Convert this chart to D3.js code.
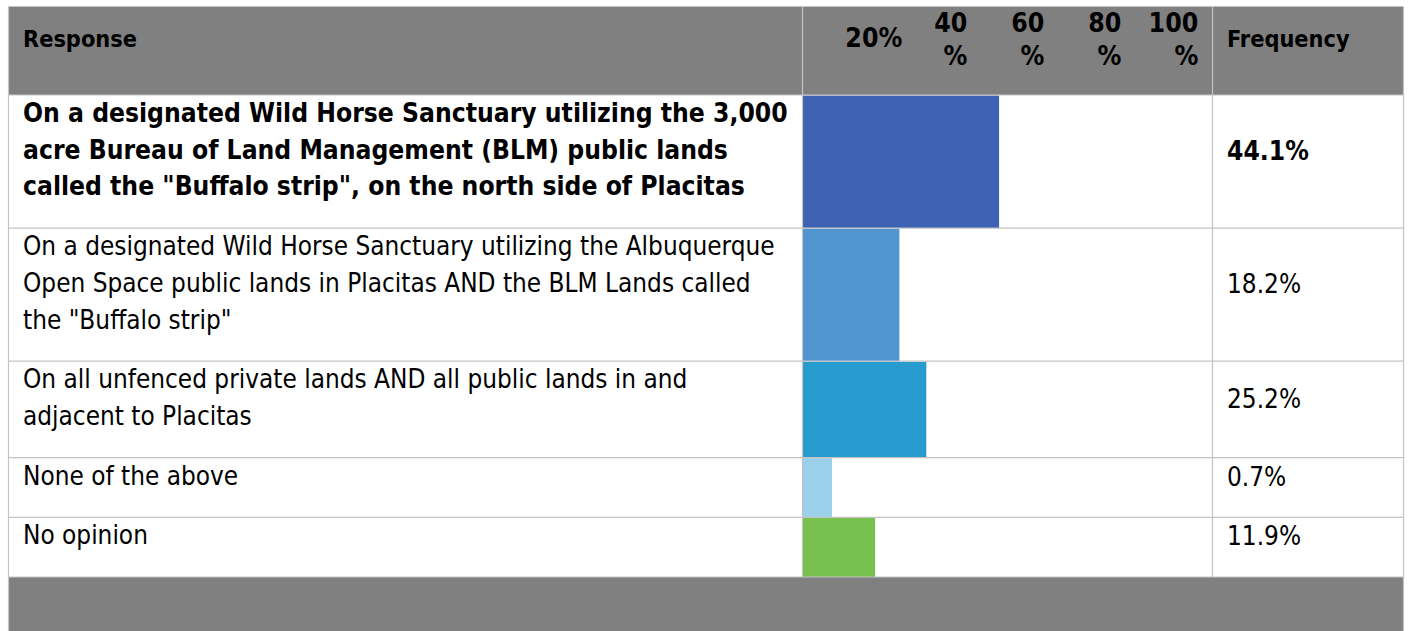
<!DOCTYPE html>
<html>
<head>
<meta charset="utf-8">
<script src="https://cdn.jsdelivr.net/npm/d3@7/dist/d3.min.js"></script>
<style>
  html, body { margin: 0; padding: 0; background: #ffffff; }
  svg { display: block; }
</style>
</head>
<body>
<svg id="chart" width="1408" height="631"></svg>
<script>
// ---------------- data ----------------
const responseLines = [
  ["On a designated Wild Horse Sanctuary utilizing the 3,000",
   "acre Bureau of Land Management (BLM) public lands",
   "called the \"Buffalo strip\", on the north side of Placitas"],
  ["On a designated Wild Horse Sanctuary utilizing the Albuquerque",
   "Open Space public lands in Placitas AND the BLM Lands called",
   "the \"Buffalo strip\""],
  ["On all unfenced private lands AND all public lands in and",
   "adjacent to Placitas"],
  ["None of the above"],
  ["No opinion"]
];
const frequencies = [44.1, 18.2, 25.2, 0.7, 11.9];
const highlighted = [true, false, false, false, false];
const tickValues = [20, 40, 60, 80, 100];
const tickLabels = ["20%", "40%", "60%", "80%", "100%"];
const headerLabels = ["Response", "Frequency"];
const barColors = ["#3e62b3", "#5094d0", "#289cce", "#9ad0ea", "#78c050"];

// ---------------- layout / style ----------------
const W = 1408, H = 631;
const tLeft = 8.5, tRight = 1403.5, tTop = 6.5;
const colBar = 802.5, colFreq = 1212.5;
const headerBottom = 95;
const lineH = 36.7, rowPad = 23;
const textX = 23, freqX = 1227;
const gray = "#808080", border = "#c4c4c4";
const fam = "'DejaVu Sans Condensed', 'DejaVu Sans', Verdana, sans-serif";

const svg = d3.select("#chart");

function fitSize(text, weight, targetW) {
  const t = svg.append("text").attr("font-family", fam).attr("font-weight", weight)
    .attr("font-size", 100).text(text);
  const w = t.node().getComputedTextLength();
  t.remove();
  return 100 * targetW / w;
}
const regSize = fitSize(responseLines[1][0], "normal", 752);
const boldSize = fitSize(responseLines[0][0], "bold", 765);
const headSize = fitSize(headerLabels[0], "bold", 114);
const tickSize = fitSize(tickLabels[0], "bold", 57);

// rows
const rows = [];
let y0 = headerBottom;
responseLines.forEach((lines, i) => {
  const h = lines.length * lineH + rowPad;
  rows.push({ i, lines, y1: y0, y2: y0 + h, freq: frequencies[i], bold: highlighted[i] });
  y0 += h;
});
const tableBottom = y0;

// x scale for bars
const x = d3.scaleLinear().domain([0, 100]).range([829.3, 1214.3]);

// header background
svg.append("rect").attr("x", tLeft).attr("y", tTop).attr("width", tRight - tLeft)
  .attr("height", headerBottom - tTop).attr("fill", gray);
// footer background
svg.append("rect").attr("x", tLeft).attr("y", tableBottom).attr("width", tRight - tLeft)
  .attr("height", H - tableBottom).attr("fill", gray);

// bars
svg.append("g").selectAll("rect").data(rows).join("rect")
  .attr("x", colBar + 0.5)
  .attr("y", d => d.y1 + 0.5)
  .attr("width", d => x(d.freq) - (colBar + 0.5))
  .attr("height", d => d.y2 - d.y1 - 0.5)
  .attr("fill", (d, i) => barColors[i]);

// grid lines
const grid = svg.append("g").attr("stroke", border).attr("stroke-width", 1.2);
grid.append("line").attr("x1", tLeft).attr("x2", tRight).attr("y1", tTop).attr("y2", tTop);
[headerBottom, ...rows.map(r => r.y2)].forEach(yy => {
  grid.append("line").attr("x1", tLeft).attr("x2", tRight).attr("y1", yy).attr("y2", yy);
});
grid.append("line").attr("x1", tLeft).attr("x2", tLeft).attr("y1", tTop).attr("y2", H);
grid.append("line").attr("x1", tRight).attr("x2", tRight).attr("y1", tTop).attr("y2", H);
[colBar, colFreq].forEach(xx => {
  grid.append("line").attr("x1", xx).attr("x2", xx).attr("y1", tTop).attr("y2", tableBottom);
});

// header texts
svg.append("text").attr("x", textX).attr("y", 47).attr("font-family", fam)
  .attr("font-weight", "bold").attr("font-size", headSize).attr("fill", "#000")
  .text(headerLabels[0]);
svg.append("text").attr("x", freqX).attr("y", 47).attr("font-family", fam)
  .attr("font-weight", "bold").attr("font-size", headSize).attr("fill", "#000")
  .text(headerLabels[1]);

// tick labels (right aligned; wrap number and % when the cell is too narrow)
const tickG = svg.append("g").attr("font-family", fam).attr("font-weight", "bold")
  .attr("font-size", tickSize).attr("fill", "#000").attr("text-anchor", "end");
tickValues.forEach((v, i) => {
  const lbl = tickLabels[i];
  if (i === 0) {
    tickG.append("text").attr("x", x(v) - 4).attr("y", 47).text(lbl);
  } else {
    const t = tickG.append("text").attr("x", x(v) - 16);
    t.append("tspan").attr("x", x(v) - 16).attr("y", 32).text(lbl.replace("%", ""));
    t.append("tspan").attr("x", x(v) - 16).attr("y", 65).text("%");
  }
});

// row texts
const rowG = svg.append("g").attr("font-family", fam).attr("fill", "#000");
rows.forEach(r => {
  const base = r.y1 + 27;
  const t = rowG.append("text")
    .attr("font-weight", r.bold ? "bold" : "normal")
    .attr("font-size", r.bold ? boldSize : regSize);
  r.lines.forEach((ln, k) => {
    t.append("tspan").attr("x", textX).attr("y", base + k * lineH).text(ln);
  });
  rowG.append("text")
    .attr("x", freqX)
    .attr("y", base + (r.lines.length - 1) * lineH / 2 + 1)
    .attr("font-weight", r.bold ? "bold" : "normal")
    .attr("font-size", r.bold ? boldSize : regSize)
    .text(d3.format(".1f")(r.freq) + "%");
});
</script>
</body>
</html>
